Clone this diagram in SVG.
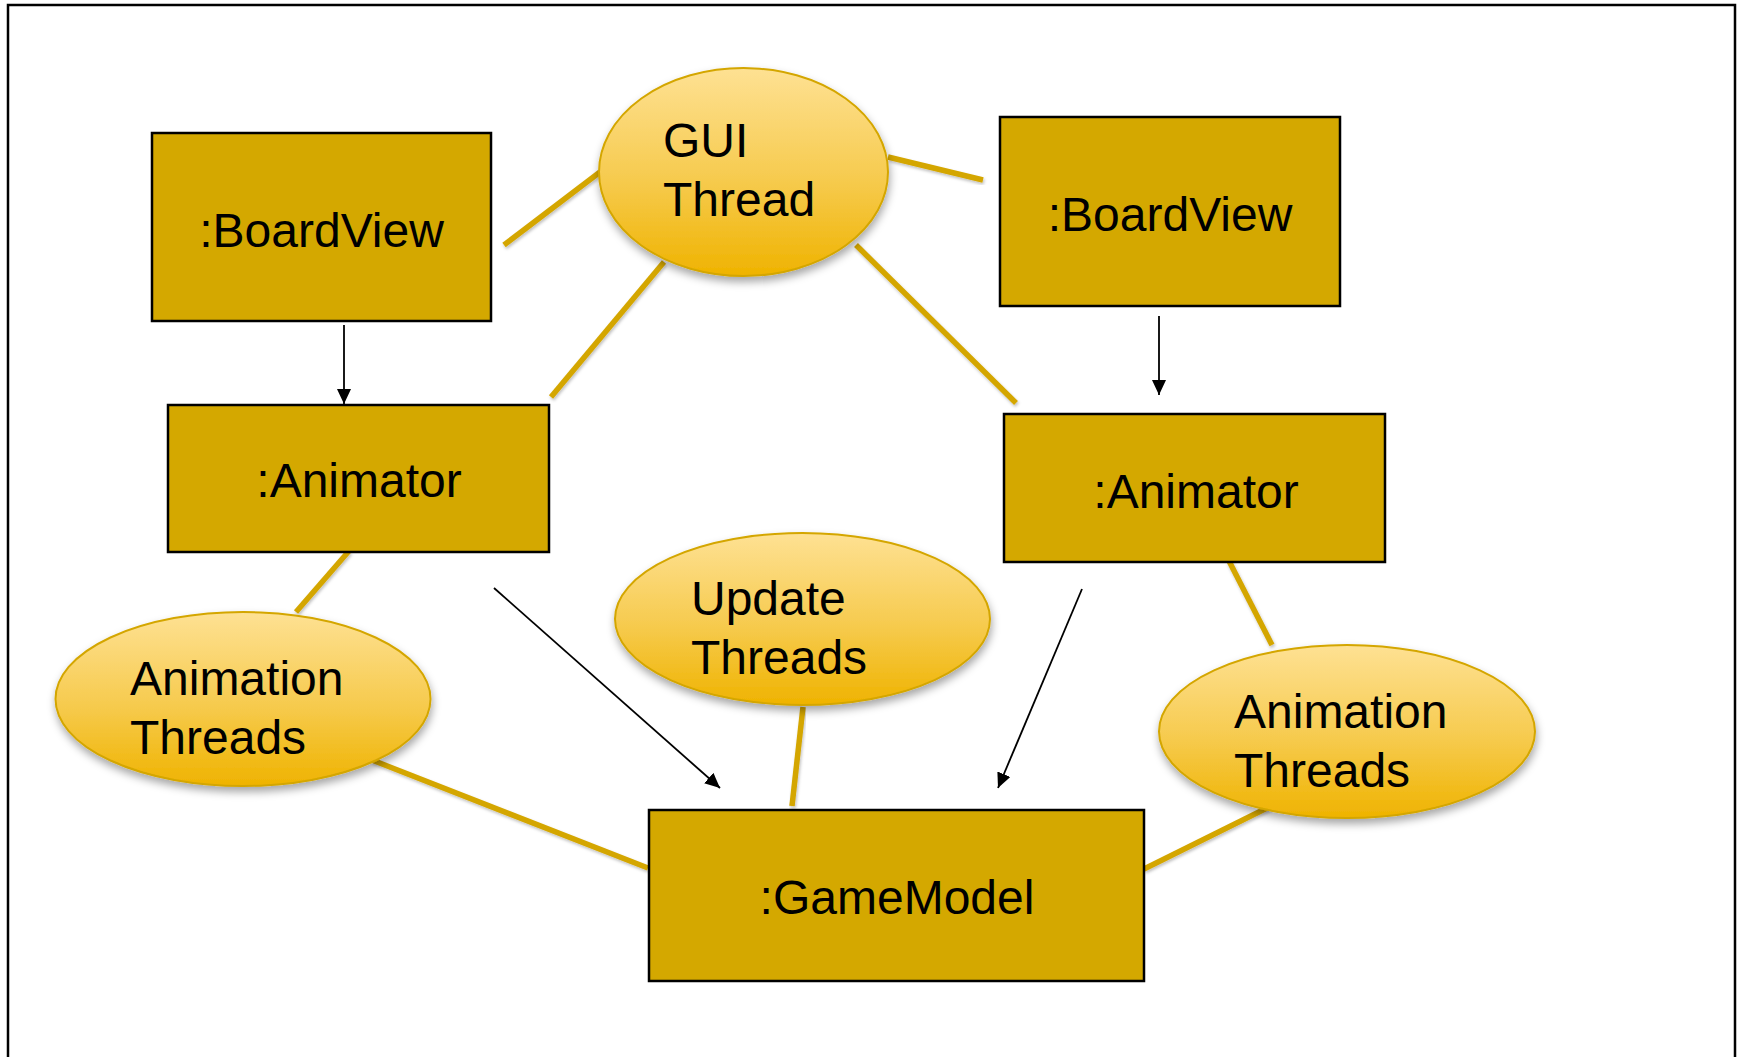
<svg xmlns="http://www.w3.org/2000/svg" width="1737" height="1057" viewBox="0 0 1737 1057">
  <style>
    .box { fill: #D4A800; stroke: #000; stroke-width: 2.5; }
    .oval { fill: url(#ovalFill); stroke: #D4A600; stroke-width: 2; filter: url(#soft); }
    .lbl { font-family: "Liberation Sans", Arial, sans-serif; font-size: 48px; fill: #000; }
    .mid { text-anchor: middle; }
    .link { stroke: #D4A600; stroke-width: 5.5; fill: none; filter: url(#lineShadow); }
    .arrow { stroke: #000; stroke-width: 1.8; fill: none; marker-end: url(#head); }
  </style>
  <defs>
    <linearGradient id="ovalFill" x1="0" y1="0" x2="0" y2="1">
      <stop offset="0" stop-color="#FEE193"/>
      <stop offset="0.55" stop-color="#F6CA4C"/>
      <stop offset="1" stop-color="#EFB300"/>
    </linearGradient>
    <filter id="soft" x="-20%" y="-20%" width="140%" height="150%">
      <feDropShadow dx="1" dy="5" stdDeviation="4" flood-color="#000" flood-opacity="0.35"/>
    </filter>
    <filter id="lineShadow" x="-20%" y="-20%" width="140%" height="140%">
      <feDropShadow dx="1" dy="2" stdDeviation="1.5" flood-color="#000" flood-opacity="0.25"/>
    </filter>
    <marker id="head" viewBox="0 0 15 14" refX="15" refY="7" markerWidth="15" markerHeight="14" markerUnits="userSpaceOnUse" orient="auto">
      <path d="M0,0 L15,7 L0,14 Z" fill="#000"/>
    </marker>
  </defs>

  <rect width="1737" height="1057" fill="#fff"/>
  <!-- page frame (bottom edge runs off the canvas) -->
  <path d="M8,1060 V5 H1735 V1060" fill="none" stroke="#000" stroke-width="2.5"/>

  <g id="connectors">
    <line class="link" x1="504" y1="245" x2="600" y2="172"/>
    <line class="link" x1="888" y1="157" x2="983" y2="180"/>
    <line class="link" x1="664" y1="262" x2="551" y2="397"/>
    <line class="link" x1="856" y1="245" x2="1016" y2="403"/>
    <line class="link" x1="349" y1="551" x2="296" y2="612"/>
    <line class="link" x1="1229" y1="561" x2="1272" y2="645"/>
    <line class="link" x1="372" y1="760" x2="648" y2="868"/>
    <line class="link" x1="803" y1="707" x2="792" y2="806"/>
    <line class="link" x1="1271" y1="806" x2="1144" y2="869"/>
    <line class="arrow" x1="344" y1="325" x2="344" y2="404"/>
    <line class="arrow" x1="1159" y1="316" x2="1159" y2="395"/>
    <line class="arrow" x1="494" y1="588" x2="720" y2="788"/>
    <line class="arrow" x1="1082" y1="589" x2="998" y2="788"/>
  </g>

  <g id="boardview-left">
    <rect class="box" x="152" y="133" width="339" height="188"/>
    <text class="lbl mid" x="321.5" y="247">:BoardView</text>
  </g>
  <g id="boardview-right">
    <rect class="box" x="1000" y="117" width="340" height="189"/>
    <text class="lbl mid" x="1170" y="231">:BoardView</text>
  </g>
  <g id="gui-thread">
    <ellipse class="oval" cx="743.5" cy="172" rx="144.5" ry="104"/>
    <text class="lbl" x="663" y="157">GUI</text>
    <text class="lbl" x="663" y="216">Thread</text>
  </g>
  <g id="animator-left">
    <rect class="box" x="168" y="405" width="381" height="147"/>
    <text class="lbl mid" x="359" y="497">:Animator</text>
  </g>
  <g id="animator-right">
    <rect class="box" x="1004" y="414" width="381" height="148"/>
    <text class="lbl mid" x="1196" y="508">:Animator</text>
  </g>
  <g id="update-threads">
    <ellipse class="oval" cx="802.5" cy="619" rx="187.5" ry="86"/>
    <text class="lbl" x="691" y="615">Update</text>
    <text class="lbl" x="691" y="674">Threads</text>
  </g>
  <g id="animation-threads-left">
    <ellipse class="oval" cx="243" cy="699" rx="187.5" ry="87"/>
    <text class="lbl" x="130" y="695">Animation</text>
    <text class="lbl" x="130" y="754">Threads</text>
  </g>
  <g id="animation-threads-right">
    <ellipse class="oval" cx="1347" cy="731.5" rx="188" ry="86.5"/>
    <text class="lbl" x="1234" y="728">Animation</text>
    <text class="lbl" x="1234" y="787">Threads</text>
  </g>
  <g id="game-model">
    <rect class="box" x="649" y="810" width="495" height="171"/>
    <text class="lbl mid" x="897" y="914">:GameModel</text>
  </g>
</svg>
